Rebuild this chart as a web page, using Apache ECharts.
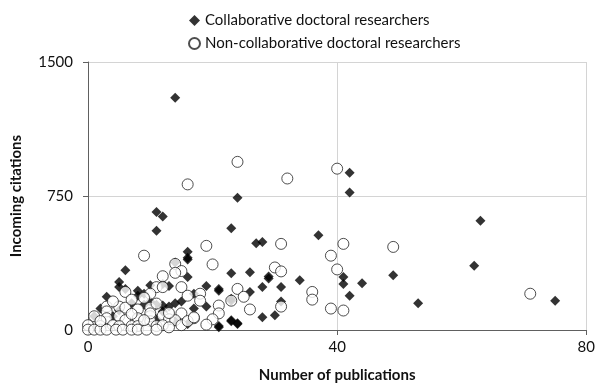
<!DOCTYPE html>
<html>
<head>
<meta charset="utf-8">
<script src="https://cdn.jsdelivr.net/npm/echarts@6/dist/echarts.min.js"></script>
<style>
  html, body { margin: 0; padding: 0; background: #fff; }
  #chart { width: 598px; height: 388px; }
</style>
</head>
<body>
<div id="chart"></div>
<script>
// [publications, citations]
const collaborative = [
  [14, 1300], [42, 880], [42, 770], [24, 740], [11, 660], [12, 635], [11, 555],
  [23, 570], [63, 612], [37, 530], [27, 485], [28, 493], [62, 360], [75, 164],
  [53, 150], [49, 307], [44, 262], [41, 296], [41, 257], [42, 192], [34, 279],
  [29, 300], [29, 288], [26, 323], [26, 213], [28, 241], [31, 241], [31, 159],
  [28, 71], [30, 82], [24, 38], [23, 317], [23, 175], [23, 49], [21, 219],
  [21, 22], [19, 246], [19, 131], [17, 203], [16, 296], [16, 438], [16, 405],
  [16, 394], [14, 378], [13, 246], [12, 257], [12, 137], [14, 49], [6, 335],
  [5, 268], [5, 240], [3, 186], [6, 230], [8, 219], [8, 192], [9, 203],
  [10, 159], [2, 120], [1, 77], [16, 33], [12, 104], [9, 142], [11, 142],
  [13, 131], [5, 109], [4, 77], [21, 16], [23, 55], [24, 33], [21, 230],
  [23, 164], [7, 150], [10, 250], [14, 150], [17, 120], [11, 60], [15, 160]
];
const nonCollaborative = [
  [16, 815], [24, 941], [32, 848], [40, 903], [9, 416], [19, 471], [20, 367],
  [31, 482], [41, 482], [39, 416], [40, 339], [49, 465], [30, 350], [31, 328],
  [24, 230], [25, 186], [26, 115], [31, 131], [36, 213], [36, 170], [39, 120],
  [41, 109], [71, 203], [12, 301], [15, 240], [16, 192], [18, 203], [18, 164],
  [21, 137], [21, 93], [23, 164], [15, 93], [17, 66], [14, 370], [15, 330],
  [14, 320], [11, 240], [12, 240], [10, 203], [6, 213], [3, 131], [5, 131],
  [6, 125], [8, 115], [10, 125], [3, 104], [1, 77], [3, 66], [5, 77], [6, 55],
  [8, 66], [10, 77], [0, 27], [2, 22], [4, 27], [5, 22], [7, 22], [8, 22],
  [10, 49], [11, 22], [10, 93], [11, 148], [12, 80], [13, 60], [14, 55],
  [12, 27], [15, 27], [20, 60], [19, 30], [0, 2], [1, 2], [2, 2], [3, 2],
  [4.5, 2], [5.6, 2], [7, 2], [8, 2], [9.4, 2], [11, 2], [13, 15], [16, 50],
  [7, 90], [9, 55], [4, 160], [7, 170], [9, 180], [2, 50], [17, 71], [13, 95]
];

const xTicks = { min: 0, max: 80, step: 40 };
const yTicks = { min: 0, max: 1500, step: 750 };

const chart = echarts.init(document.getElementById('chart'));
const font = 'Lato, "Open Sans", sans-serif';

chart.setOption({
  animation: false,
  backgroundColor: '#ffffff',
  textStyle: { fontFamily: font },
  legend: {
    orient: 'vertical',
    left: 183,
    top: 8,
    itemGap: 8,
    itemWidth: 11,
    itemHeight: 11,
    textStyle: { fontSize: 15, color: '#111', fontFamily: font },
    data: [
      { name: 'Collaborative doctoral researchers', icon: 'diamond' },
      { name: 'Non-collaborative doctoral researchers', icon: 'circle' }
    ]
  },
  grid: { left: 88, right: 8, top: 62, bottom: 51 },
  xAxis: {
    type: 'value',
    min: xTicks.min, max: xTicks.max, interval: xTicks.step,
    name: 'Number of publications',
    nameLocation: 'middle',
    nameGap: 38,
    nameTextStyle: { fontSize: 15, fontWeight: 'bold', color: '#111', fontFamily: font },
    axisLine: { lineStyle: { color: '#606060', width: 1 } },
    axisTick: { show: true, length: 5, lineStyle: { color: '#606060' } },
    axisLabel: { fontSize: 15, color: '#111', margin: 10 },
    splitLine: { show: true, lineStyle: { color: '#d4d4d4' } }
  },
  yAxis: {
    type: 'value',
    min: yTicks.min, max: yTicks.max, interval: yTicks.step,
    name: 'Incoming citations',
    nameLocation: 'middle',
    nameGap: 64,
    nameTextStyle: { fontSize: 15, fontWeight: 'bold', color: '#111', fontFamily: font },
    axisLine: { show: true, lineStyle: { color: '#606060', width: 1 } },
    axisTick: { show: true, length: 5, lineStyle: { color: '#606060' } },
    axisLabel: { fontSize: 15, color: '#111', margin: 15, formatter: v => String(v) },
    splitLine: { show: true, lineStyle: { color: '#d4d4d4' } }
  },
  series: [
    {
      name: 'Collaborative doctoral researchers',
      type: 'scatter',
      symbol: 'diamond',
      symbolSize: 10,
      itemStyle: { color: '#000000' },
      data: collaborative
    },
    {
      name: 'Non-collaborative doctoral researchers',
      type: 'scatter',
      symbol: 'circle',
      symbolSize: 11,
      itemStyle: { color: '#ffffff', borderColor: '#222222', borderWidth: 1 },
      data: nonCollaborative
    }
  ]
});
</script>
</body>
</html>
